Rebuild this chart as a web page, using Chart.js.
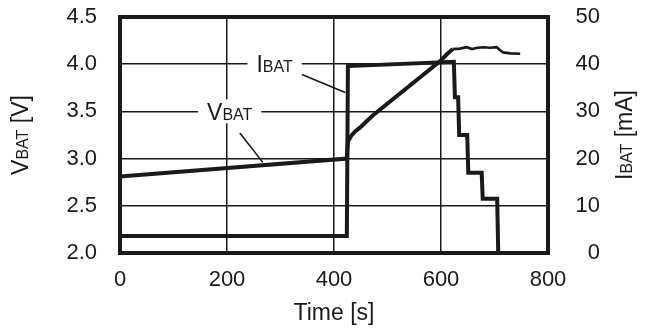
<!DOCTYPE html>
<html>
<head>
<meta charset="utf-8">
<script src="https://cdn.jsdelivr.net/npm/chart.js@4.4.1/dist/chart.umd.min.js"></script>
<style>
  body { margin: 0; background: #fff; }
  canvas { display: block; }
</style>
</head>
<body>
<canvas id="chart" width="645" height="329"></canvas>
<script>
// VBAT [V] vs time [s]
const timeV = [0, 424, 426, 432, 440, 449, 460, 473, 598, 610, 622, 635, 648, 658, 668, 679, 692, 704, 710, 716, 730, 748];
const vbat  = [2.81, 3.0, 3.18, 3.24, 3.29, 3.33, 3.39, 3.46, 4.03, 4.10, 4.16, 4.165, 4.18, 4.16, 4.175, 4.18, 4.175, 4.18, 4.15, 4.125, 4.115, 4.11];

// IBAT [mA] vs time [s]
const timeI = [0, 424, 426, 624, 626, 632, 634, 649, 651, 676, 678, 705, 707];
const ibat  = [3.6, 3.6, 39.6, 40.5, 33, 33, 25, 25, 17, 17, 11.5, 11.5, 0];

const xTicks = [0, 200, 400, 600, 800];
const vTicks = [2.0, 2.5, 3.0, 3.5, 4.0, 4.5];
const iTicks = [0, 10, 20, 30, 40, 50];

// labels on the plot, placed in data units (time, volts)
const ibatLabel = { t: 289, v: 4.0, from: [340, 3.89], to: [421, 3.70] };
const vbatLabel = { t: 205, v: 3.5, from: [224, 3.27], to: [267, 2.96] };

const FONT = '"Liberation Sans", Arial, sans-serif';
const INK = '#1a1a1a';

function toPoints(xs, ys) {
  return xs.map((x, i) => ({ x: x, y: ys[i] }));
}

// draws e.g. V + BAT (small) + rest, centred at 0,0
function subText(ctx, main, sub, rest, big, small) {
  ctx.font = big + 'px ' + FONT;
  const w1 = ctx.measureText(main).width;
  const w3 = rest ? ctx.measureText(rest).width : 0;
  ctx.font = small + 'px ' + FONT;
  const w2 = ctx.measureText(sub).width;
  const total = w1 + w2 + w3;
  let x = -total / 2;
  const base = big * 0.36;
  ctx.textAlign = 'left';
  ctx.textBaseline = 'alphabetic';
  ctx.font = big + 'px ' + FONT;
  ctx.fillText(main, x, base);
  x += w1;
  ctx.font = small + 'px ' + FONT;
  ctx.fillText(sub, x, base);
  x += w2;
  if (rest) {
    ctx.font = big + 'px ' + FONT;
    ctx.fillText(rest, x, base);
  }
  return total;
}

const decorations = {
  id: 'decorations',
  beforeDatasetsDraw(chart) {
    const ctx = chart.ctx;
    const xs = chart.scales.x, ys = chart.scales.y;
    ctx.save();
    ctx.fillStyle = INK;
    ctx.strokeStyle = INK;
    [[ibatLabel, 'I', 'BAT'], [vbatLabel, 'V', 'BAT']].forEach(([lab, a, b]) => {
      const cx = xs.getPixelForValue(lab.t);
      const cy = ys.getPixelForValue(lab.v);
      ctx.save();
      ctx.translate(cx, cy);
      ctx.font = '23px ' + FONT;
      const w = ctx.measureText(a).width;
      ctx.font = '16px ' + FONT;
      const w2 = ctx.measureText(b).width;
      ctx.fillStyle = '#fff';
      ctx.fillRect(-(w + w2) / 2 - 9, -12, w + w2 + 18, 24);
      ctx.fillStyle = INK;
      subText(ctx, a, b, '', 23, 16);
      ctx.restore();
      ctx.lineWidth = 1.6;
      ctx.beginPath();
      ctx.moveTo(xs.getPixelForValue(lab.from[0]), ys.getPixelForValue(lab.from[1]));
      ctx.lineTo(xs.getPixelForValue(lab.to[0]), ys.getPixelForValue(lab.to[1]));
      ctx.stroke();
    });
    ctx.restore();
  },
  afterDatasetsDraw(chart) {
    const ctx = chart.ctx;
    const a = chart.chartArea;
    ctx.save();
    ctx.strokeStyle = INK;
    ctx.lineWidth = 4;
    ctx.strokeRect(a.left, a.top, a.right - a.left, a.bottom - a.top);
    ctx.restore();
  },
  afterDraw(chart) {
    const ctx = chart.ctx;
    const a = chart.chartArea;
    const midY = (a.top + a.bottom) / 2;
    ctx.save();
    ctx.fillStyle = INK;
    // left title
    ctx.save();
    ctx.translate(20, midY);
    ctx.rotate(-Math.PI / 2);
    subText(ctx, 'V', 'BAT', ' [V]', 23, 16);
    ctx.restore();
    // right title
    ctx.save();
    ctx.translate(624, midY);
    ctx.rotate(-Math.PI / 2);
    subText(ctx, 'I', 'BAT', ' [mA]', 23, 16);
    ctx.restore();
    // x title
    ctx.font = '23px ' + FONT;
    ctx.textAlign = 'center';
    ctx.textBaseline = 'middle';
    ctx.fillText('Time [s]', (a.left + a.right) / 2, 314);
    ctx.restore();
  }
};

function noPad(s) {
  s.paddingTop = 0;
  s.paddingBottom = 0;
  s.paddingLeft = 0;
  s.paddingRight = 0;
}

new Chart(document.getElementById('chart'), {
  type: 'line',
  data: {
    datasets: [{
      label: 'VBAT',
      data: toPoints(timeV, vbat),
      yAxisID: 'y',
      borderColor: INK,
      borderWidth: 4,
      pointRadius: 0,
      tension: 0,
      fill: false,
      segment: {
        borderWidth: c => c.p0.parsed.x >= 622 ? 2.6 : 4
      }
    }, {
      label: 'IBAT',
      data: toPoints(timeI, ibat),
      yAxisID: 'y2',
      borderColor: INK,
      borderWidth: 4,
      pointRadius: 0,
      tension: 0,
      fill: false
    }]
  },
  options: {
    responsive: false,
    animation: false,
    events: [],
    layout: { padding: { top: 17, right: 45, left: 0, bottom: 0 } },
    plugins: {
      legend: { display: false },
      tooltip: { enabled: false }
    },
    scales: {
      x: {
        type: 'linear',
        min: 0,
        max: 800,
        afterBuildTicks: s => { s.ticks = xTicks.map(v => ({ value: v })); },
        afterFit: s => { s.height = 76; noPad(s); },
        grid: { color: INK, lineWidth: 1.5, drawTicks: false },
        border: { display: false },
        ticks: { color: INK, font: { family: FONT, size: 22 }, padding: 14, maxRotation: 0 }
      },
      y: {
        position: 'left',
        min: 2.0,
        max: 4.5,
        afterBuildTicks: s => { s.ticks = vTicks.map(v => ({ value: v })); },
        afterFit: s => { s.width = 120; noPad(s); },
        grid: { color: INK, lineWidth: 1.5, drawTicks: false },
        border: { display: false },
        ticks: {
          color: INK, font: { family: FONT, size: 22 }, padding: 23,
          callback: v => v.toFixed(1)
        }
      },
      y2: {
        position: 'right',
        min: 0,
        max: 50,
        afterBuildTicks: s => { s.ticks = iTicks.map(v => ({ value: v })); },
        afterFit: s => { s.width = 52; noPad(s); },
        grid: { display: false, drawTicks: false },
        border: { display: false },
        ticks: { color: INK, font: { family: FONT, size: 22 }, padding: 20, crossAlign: 'far' }
      }
    }
  },
  plugins: [decorations]
});
</script>
</body>
</html>
